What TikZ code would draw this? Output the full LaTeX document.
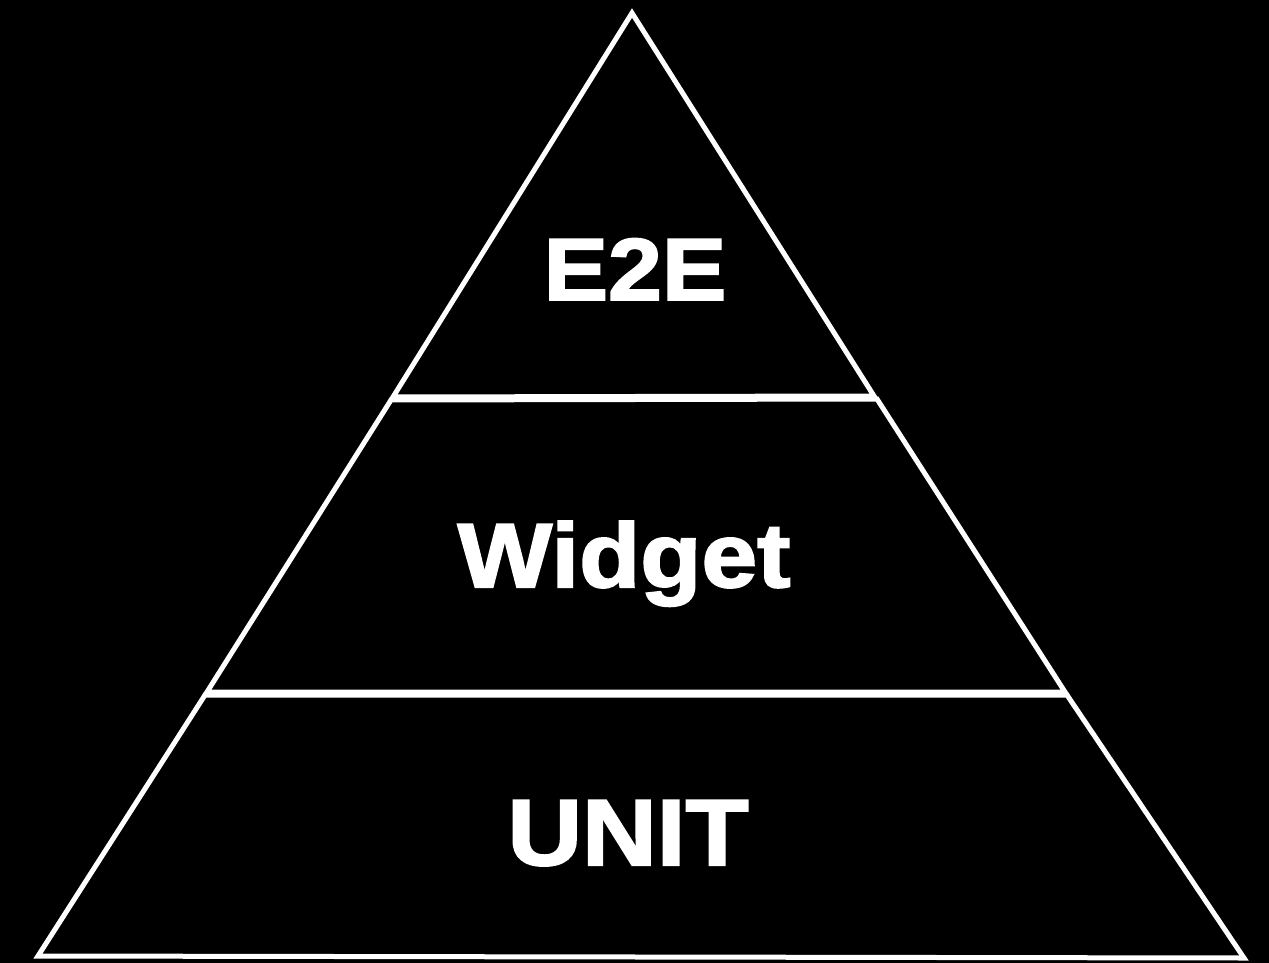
\documentclass[tikz,border=0pt]{standalone}
\usepackage{fontspec}
\setmainfont{Liberation Sans}
\newfontfamily\heavysans{Liberation Sans Bold}[FakeBold=2.2,FakeStretch=1.1]
\begin{document}
\begin{tikzpicture}[x=1pt,y=-1pt,
  tier/.style={draw=white,line width=5pt,line join=miter},
  label/.style={text=white,font=\heavysans\fontsize{88}{88}\selectfont,anchor=base,inner sep=0pt}]
  \fill[black] (0,0) rectangle (1269,963);
  \useasboundingbox (0,0) rectangle (1269,963);
  % top tier
  \draw[tier] (632,13) -- (874,396) -- (393,397) -- cycle;
  % middle tier
  \draw[tier] (391,400) -- (877,399) -- (1065,692) -- (207,692) -- cycle;
  % bottom tier
  \draw[tier] (205,695) -- (1067,695) -- (1244,958) -- (38,956) -- cycle;
  \node[label] (e2e) at (635,300) {E2E};
  \node[label,font=\heavysans\fontsize{91}{91}\selectfont] (widget) at (624,587) {Widget};
  \node[label,font=\heavysans\fontsize{94}{94}\selectfont] (unit) at (628,865) {UNIT};
\end{tikzpicture}
\end{document}
